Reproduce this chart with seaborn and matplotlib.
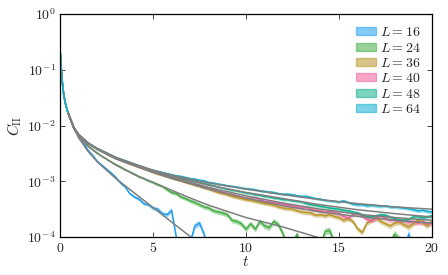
import numpy as np
import matplotlib
matplotlib.use("Agg")
import matplotlib.pyplot as plt
from matplotlib.patches import Patch
from matplotlib.ticker import FixedLocator, FuncFormatter, NullLocator
import seaborn as sns

# time grid: early points, then 1.0 ... 20.0 in steps of 0.25
t_early = [0, 0.1, 0.2, 0.3, 0.4, 0.5, 0.75]
t_late = list(np.arange(1.0, 20.01, 0.25))
t = np.array(t_early + t_late)

# log10 C_II, shared by all sizes before t = 1
log_early = [-0.62, -1.15, -1.45, -1.62, -1.74, -1.84, -2.05]

# log10 C_II from t = 1.0 to 20.0 (4 values per unit of t)
log_c16 = [-2.18, -2.30, -2.44, -2.53,  -2.64, -2.71, -2.78, -2.85,
           -2.93, -3.03, -3.10, -3.22,  -3.28, -3.32, -3.40, -3.42,
           -3.48, -3.50, -3.58, -3.60,  -3.52, -4.00, -4.30, -4.30,
           -4.10, -3.80, -3.75, -3.95,  -4.30, -4.05, -4.30, -4.30,
           -4.30, -4.30, -4.30, -4.30,  -4.30, -4.05, -4.30, -4.30,
           -4.30, -4.30, -4.30, -4.30,  -4.30, -4.30, -4.30, -4.30,
           -4.30, -4.30, -4.30, -4.30,  -4.30, -4.30, -4.30, -4.30,
           -4.30, -4.30, -4.30, -4.30,  -4.30, -4.30, -4.30, -4.30,
           -4.30, -4.30, -4.30, -4.30,  -4.30, -4.30, -4.30, -3.95,
           -4.30, -4.30, -4.30, -4.30,  -4.30]
log_c24 = [-2.18, -2.28, -2.36, -2.43,  -2.49, -2.55, -2.60, -2.65,
           -2.70, -2.74, -2.79, -2.83,  -2.87, -2.92, -2.95, -2.99,
           -3.02, -3.06, -3.09, -3.15,  -3.20, -3.22, -3.28, -3.31,
           -3.35, -3.38, -3.42, -3.46,  -3.48, -3.53, -3.55, -3.57,
           -3.60, -3.70, -3.72, -3.76,  -3.86, -3.76, -3.86, -3.72,
           -3.80, -3.83, -3.72, -3.78,  -3.95, -4.20, -4.10, -3.95,
           -4.20, -4.30, -4.10, -4.05,  -4.20, -3.90, -3.88, -4.10,
           -4.30, -4.30, -4.30, -4.30,  -4.30, -4.30, -4.30, -4.30,
           -4.30, -4.30, -4.30, -4.10,  -3.95, -4.05, -4.30, -4.30,
           -4.30, -4.30, -4.30, -4.30,  -4.30]
log_c36 = [-2.16, -2.24, -2.31, -2.37,  -2.42, -2.46, -2.51, -2.55,
           -2.59, -2.62, -2.66, -2.69,  -2.72, -2.75, -2.78, -2.81,
           -2.84, -2.87, -2.89, -2.92,  -2.94, -2.97, -2.99, -3.02,
           -3.04, -3.07, -3.09, -3.12,  -3.14, -3.17, -3.20, -3.22,
           -3.24, -3.27, -3.29, -3.31,  -3.33, -3.34, -3.36, -3.38,
           -3.40, -3.41, -3.43, -3.46,  -3.48, -3.49, -3.50, -3.53,
           -3.55, -3.56, -3.57, -3.61,  -3.60, -3.62, -3.60, -3.63,
           -3.65, -3.70, -3.67, -3.72,  -3.85, -3.92, -3.75, -3.70,
           -3.66, -3.72, -3.76, -3.80,  -3.75, -3.73, -3.78, -3.82,
           -3.76, -3.70, -3.74, -3.80,  -3.72]
log_c40 = [-2.16, -2.24, -2.31, -2.37,  -2.42, -2.46, -2.50, -2.54,
           -2.58, -2.62, -2.65, -2.68,  -2.71, -2.74, -2.77, -2.80,
           -2.83, -2.86, -2.88, -2.91,  -2.93, -2.96, -2.98, -3.00,
           -3.03, -3.05, -3.07, -3.10,  -3.12, -3.15, -3.18, -3.20,
           -3.22, -3.24, -3.26, -3.28,  -3.30, -3.31, -3.29, -3.33,
           -3.36, -3.37, -3.38, -3.40,  -3.41, -3.43, -3.44, -3.46,
           -3.48, -3.47, -3.50, -3.52,  -3.53, -3.55, -3.54, -3.56,
           -3.58, -3.63, -3.66, -3.60,  -3.57, -3.62, -3.68, -3.71,
           -3.66, -3.63, -3.66, -3.70,  -3.68, -3.72, -3.70, -3.74,
           -3.72, -3.75, -3.73, -3.76,  -3.75]
log_c48 = [-2.16, -2.24, -2.31, -2.37,  -2.42, -2.46, -2.50, -2.54,
           -2.58, -2.61, -2.64, -2.67,  -2.70, -2.73, -2.76, -2.79,
           -2.81, -2.84, -2.86, -2.88,  -2.90, -2.92, -2.94, -2.96,
           -2.98, -3.00, -3.02, -3.04,  -3.06, -3.08, -3.10, -3.12,
           -3.14, -3.16, -3.17, -3.19,  -3.21, -3.22, -3.24, -3.25,
           -3.27, -3.28, -3.30, -3.31,  -3.33, -3.33, -3.35, -3.36,
           -3.37, -3.40, -3.42, -3.43,  -3.45, -3.46, -3.48, -3.49,
           -3.50, -3.52, -3.53, -3.55,  -3.57, -3.60, -3.63, -3.64,
           -3.62, -3.60, -3.61, -3.64,  -3.67, -3.69, -3.70, -3.68,
           -3.64, -3.63, -3.66, -3.64,  -3.62]
log_c64 = [-2.16, -2.24, -2.31, -2.36,  -2.41, -2.45, -2.49, -2.53,
           -2.57, -2.60, -2.63, -2.66,  -2.69, -2.72, -2.75, -2.78,
           -2.80, -2.82, -2.84, -2.86,  -2.88, -2.90, -2.91, -2.93,
           -2.95, -2.96, -2.98, -2.99,  -3.02, -3.03, -3.05, -3.06,
           -3.08, -3.09, -3.10, -3.12,  -3.13, -3.14, -3.15, -3.17,
           -3.18, -3.19, -3.20, -3.22,  -3.23, -3.23, -3.24, -3.26,
           -3.27, -3.27, -3.29, -3.31,  -3.32, -3.34, -3.35, -3.36,
           -3.37, -3.35, -3.38, -3.41,  -3.42, -3.42, -3.44, -3.43,
           -3.44, -3.45, -3.44, -3.46,  -3.46, -3.47, -3.48, -3.49,
           -3.51, -3.53, -3.52, -3.54,  -3.55]

# half width of the shaded error band (decades), per unit of t from t = 1
band_dex = [0.006, 0.008, 0.010, 0.014, 0.018, 0.022, 0.025, 0.028, 0.030, 0.032,
            0.034, 0.036, 0.038, 0.040, 0.042, 0.044, 0.046, 0.048, 0.050, 0.052]
band_scale = [2.0, 1.5, 1.0, 0.9, 0.7, 0.6]

# fitted curves (grey)
t_fit = [0.45, 0.75, 1, 1.5, 2, 3, 4, 5, 6, 7, 8, 10, 12, 14, 16, 18, 20]
fit16 = [-1.78, -2.06, -2.22, -2.46, -2.65, -2.95, -3.21, -3.47, -3.73, -3.99, -4.25,
         -4.75, -5.25, -5.75, -6.25, -6.75, -7.25]
fit24 = [-1.78, -2.05, -2.19, -2.37, -2.50, -2.71, -2.88, -3.02, -3.16, -3.30, -3.43,
         -3.65, -3.82, -4.02, -4.20, -4.40, -4.60]
fit36 = [-1.78, -2.04, -2.17, -2.32, -2.43, -2.60, -2.72, -2.84, -2.95, -3.04, -3.14,
         -3.30, -3.44, -3.55, -3.63, -3.70, -3.75]
fit40 = [-1.78, -2.04, -2.16, -2.32, -2.42, -2.59, -2.71, -2.83, -2.93, -3.02, -3.11,
         -3.26, -3.39, -3.50, -3.59, -3.65, -3.70]
fit48 = [-1.78, -2.04, -2.16, -2.31, -2.42, -2.58, -2.70, -2.81, -2.91, -2.99, -3.07,
         -3.20, -3.31, -3.42, -3.51, -3.58, -3.64]
fit64 = [-1.78, -2.04, -2.16, -2.31, -2.41, -2.57, -2.69, -2.80, -2.89, -2.96, -3.03,
         -3.14, -3.24, -3.33, -3.40, -3.46, -3.50]

sizes = [16, 24, 36, 40, 48, 64]
series = [log_c16, log_c24, log_c36, log_c40, log_c48, log_c64]
fits = [fit16, fit24, fit36, fit40, fit48, fit64]
colors = ["#1fa0f2", "#45ad45", "#b8962a", "#f0609a", "#12b28e", "#12b0d0"]

sns.set_style("ticks")
plt.rcParams['mathtext.fontset'] = 'cm'
plt.rcParams['font.family'] = ['DejaVu Serif']
plt.rcParams['font.size'] = 10

fig = plt.figure(figsize=(4.48, 2.75), dpi=100)
ax = fig.add_axes([0.134, 0.138, 0.830, 0.811])
ax.set_yscale('log')

# band width on the full grid (early value before t = 1)
w_late = np.append(np.repeat(band_dex, 4), band_dex[-1])[:len(t_late)]
w = np.concatenate([np.full(len(t_early), band_dex[0]), w_late])

handles = []
for L, logc, col, s in zip(sizes, series, colors, band_scale):
    c = 10 ** np.array(log_early + logc)
    lo = c * 10 ** (-w * s)
    hi = c * 10 ** (w * s)
    ax.fill_between(t, lo, hi, color=col, alpha=0.45, lw=0)
    sns.lineplot(x=t, y=c, ax=ax, color=col, lw=1.1)
    handles.append(Patch(facecolor=col, edgecolor=col, alpha=0.55, lw=1.0,
                         label=r'$L = %d$' % L))

for fc in fits:
    sns.lineplot(x=t_fit, y=10 ** np.array(fc), ax=ax, color='#7f7f7f', lw=1.1)

ax.set_xlim(0, 20)
ax.set_ylim(1e-4, 1)
ax.xaxis.set_major_locator(FixedLocator([0, 5, 10, 15, 20]))
ax.xaxis.set_major_formatter(FuncFormatter(lambda v, p: r'$%d$' % v))
ax.yaxis.set_major_locator(FixedLocator([1e-4, 1e-3, 1e-2, 1e-1, 1]))
ax.yaxis.set_major_formatter(FuncFormatter(lambda v, p: r'$10^{%d}$' % round(np.log10(v))))
ax.yaxis.set_minor_locator(NullLocator())
ax.tick_params(which='both', direction='in', top=True, right=True, length=3.5,
               width=0.6, labelsize=10, pad=3)
for sp in ax.spines.values():
    sp.set_color('black')
    sp.set_linewidth(0.9)

ax.set_xlabel(r'$t$', fontsize=11, labelpad=0)
ax.set_ylabel(r'$C_{\rm II}$', fontsize=11, labelpad=2)

ax.legend(handles=handles, loc='upper right', frameon=False, fontsize=10,
          handlelength=1.4, handleheight=0.5, handletextpad=0.3,
          labelspacing=0.1, borderaxespad=0.4)

fig.savefig('out.png', dpi=100)
